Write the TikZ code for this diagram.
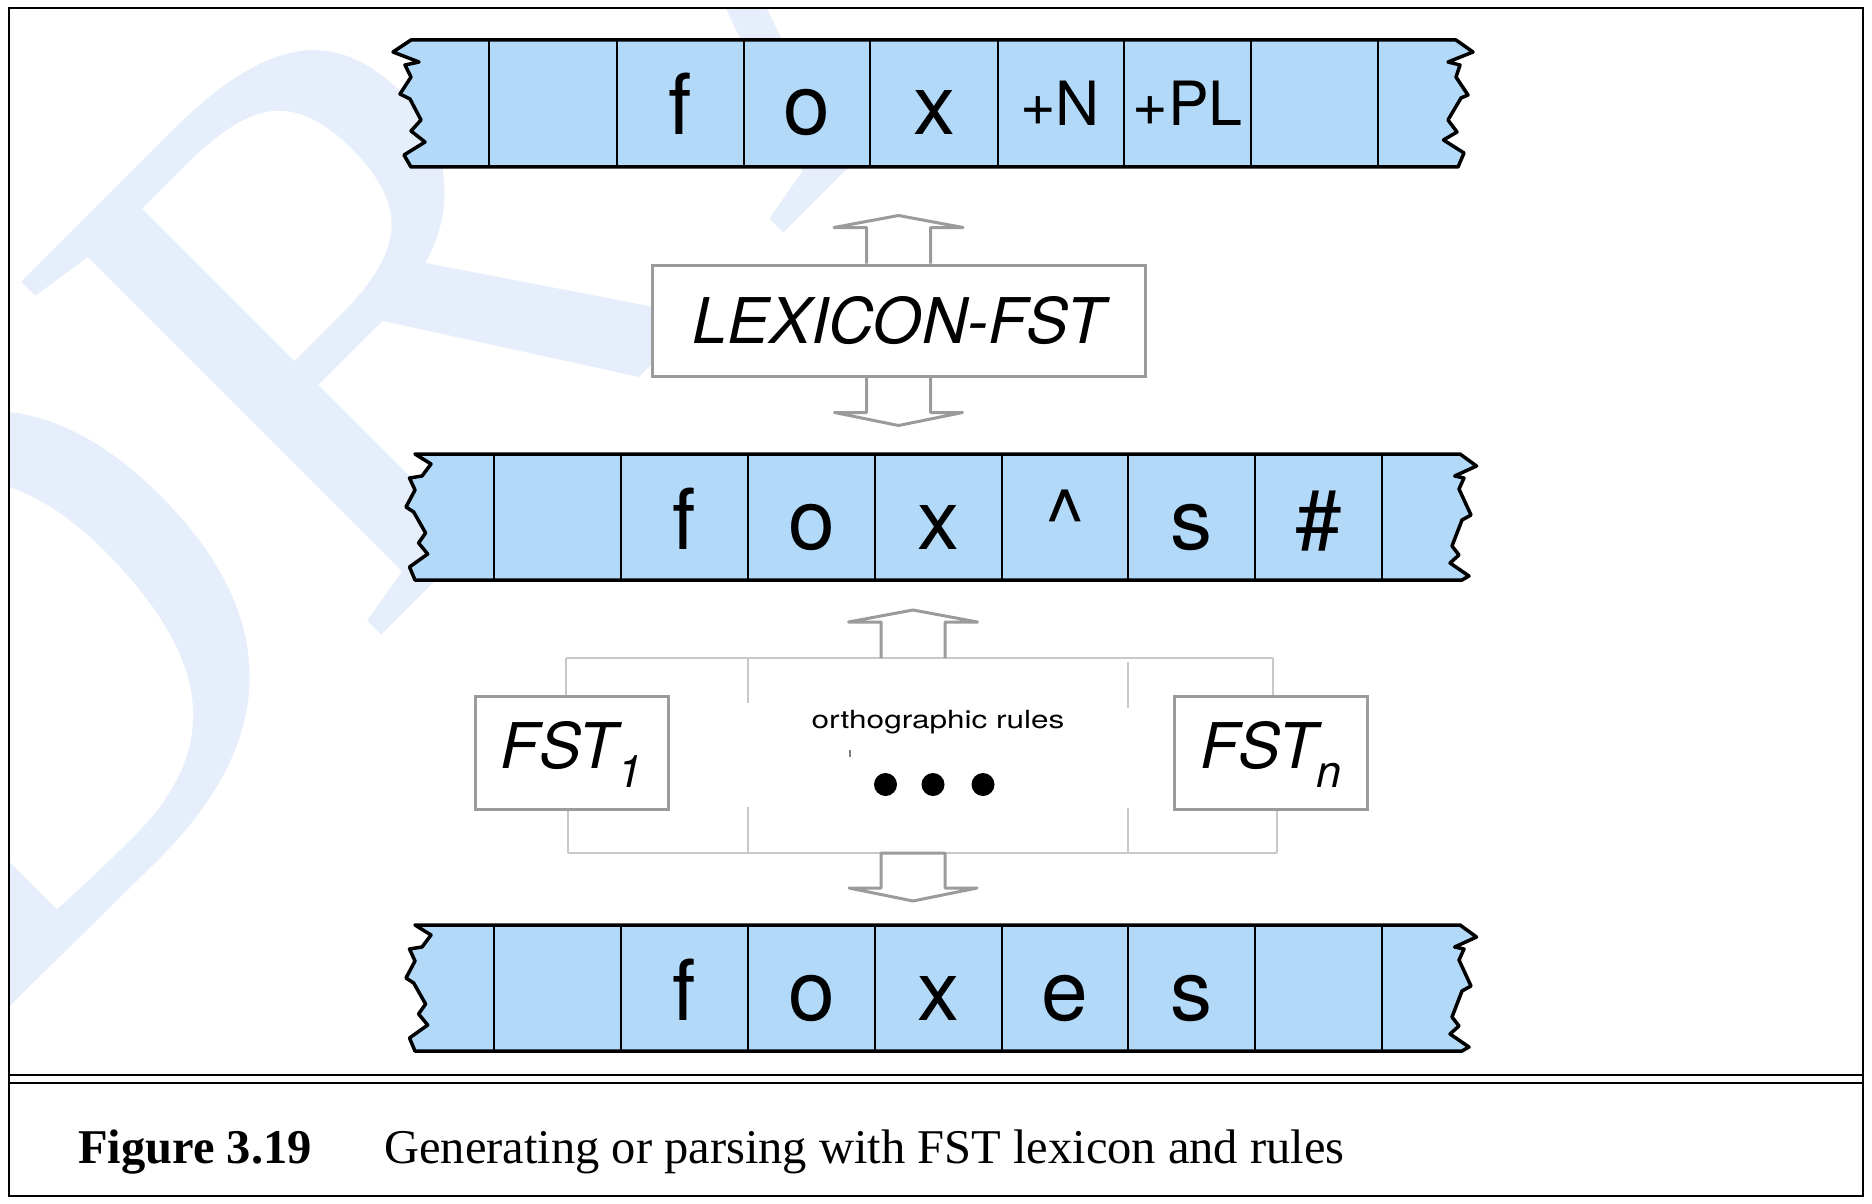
\documentclass[tikz,border=0pt]{standalone}
\usepackage{fontspec}
\setmainfont{TeX Gyre Heros}
\newfontfamily\capfont{Liberation Serif}
\usetikzlibrary{calc}
\definecolor{tapeblue}{RGB}{179,217,249}
\definecolor{wmblue}{RGB}{230,238,251}
\definecolor{boxgray}{RGB}{155,155,155}
\definecolor{brgray}{RGB}{200,200,200}
\newcommand\fsz[1]{\fontsize{#1}{#1}\selectfont}
\newcommand\blockup[1]{\draw[blk] ($(#1)+(-32,0)$) -- ($(#1)+(-32,-36)$) -- ($(#1)+(-64.5,-36)$) -- ($(#1)+(0,-48)$) -- ($(#1)+(64.5,-36)$) -- ($(#1)+(32,-36)$) -- ($(#1)+(32,0)$);}
\newcommand\blockdown[1]{\draw[blk] ($(#1)+(-32,0)$) -- ($(#1)+(-32,35)$) -- ($(#1)+(-64,35)$) -- ($(#1)+(0,48)$) -- ($(#1)+(64,35)$) -- ($(#1)+(32,35)$) -- ($(#1)+(32,0)$);}
\begin{document}
\begin{tikzpicture}[x=1pt,y=-1pt,
  tapetxt/.style={anchor=base, inner sep=0, font=\fsz{84}},
  tapesmall/.style={anchor=base, inner sep=0, font=\fsz{61}},
  graybox/.style={draw=boxgray, line width=3, fill=white, inner sep=0, font=\itshape\fsz{63}},
  blk/.style={draw=boxgray, line width=3, line join=round},
  bracket/.style={draw=brgray, line width=2.5},
  divider/.style={draw=black, line width=2.5},
  tapeline/.style={fill=tapeblue, draw=black, line width=3.5, line join=round},
  wm/.style={rotate=45, anchor=base west, inner sep=0, text=wmblue, font={\capfont\fsz{770}}},
  dot/.style={circle, fill=black, inner sep=0, minimum size=23},
  capt/.style={anchor=base west, inner sep=0, font={\capfont\fsz{48.5}}}
]
\useasboundingbox (0,0) rectangle (1872,1204);
\fill[white] (0,0) rectangle (1872,1204);
% watermark
\begin{scope}
\clip (9,8) rectangle (1863,1075);
\node[wm] (wm) at (-31,1048) {DR\kern75pt AFT};
\end{scope}
% top tape
\filldraw[tapeline] (411,40) -- (1456,40) -- (1473,52) -- (1448,62) -- (1460,65) -- (1456,77) -- (1468,95) -- (1461,98) -- (1448,120) -- (1457,132) -- (1443.5,140) -- (1464,153) -- (1458,167) -- (411,167) -- (404,155) -- (425,142) -- (411,131) -- (421,120) -- (410,99) -- (400,94) -- (411,77) -- (405,65) -- (419,62) -- (393,52) -- cycle;
\foreach \x in {489,617,744,870,998,1124,1251,1378} \draw[divider] (\x,40) -- (\x,167);
\node[tapetxt] (t1f) at (680.5,135) {f};
\node[tapetxt] (t1o) at (807,135) {o};
\node[tapetxt] (t1x) at (934,135) {x};
\node[tapesmall] (t1n) at (1060,126) {+N};
\node[tapesmall] (t1pl) at (1187.5,126) {+PL};
% middle and bottom tapes
\foreach \dy in {0,471} {
\begin{scope}[shift={(0,\dy)}]
\filldraw[tapeline] (415,454) -- (1460,454) -- (1476.5,466) -- (1454.7,476) -- (1464,478) -- (1459,489) -- (1471,515) -- (1462,520) -- (1452,546) -- (1459,555) -- (1450,563) -- (1469,576) -- (1462,580) -- (415,580) -- (409.5,567) -- (427.7,554) -- (418.6,543) -- (425.6,533) -- (413.7,512) -- (406,507) -- (415,490) -- (409.5,478) -- (422,476) -- (431,464) -- cycle;
\foreach \x in {494,621,748,875,1002,1128,1255,1382} \draw[divider] (\x,454) -- (\x,580);
\end{scope}
}
\node[tapetxt] (t2f) at (684.5,549) {f};
\node[tapetxt] (t2o) at (811.5,549) {o};
\node[tapetxt] (t2x) at (938.5,549) {x};
\node[tapetxt] (t2c) at (1065,549) {\textasciicircum};
\node[tapetxt] (t2s) at (1191.5,549) {s};
\node[tapetxt] (t2h) at (1318.5,549) {\#};
\node[tapetxt] (t3f) at (684.5,1020.5) {f};
\node[tapetxt] (t3o) at (811.5,1020.5) {o};
\node[tapetxt] (t3x) at (938.5,1020.5) {x};
\node[tapetxt] (t3e) at (1065,1020.5) {e};
\node[tapetxt] (t3s) at (1191.5,1020.5) {s};
% lexicon
\node[graybox, minimum width=493, minimum height=111] (lex) at (898.5,320.5) {LEXICON-FST};
\blockup{lex.north}
\blockdown{lex.south}
% FST boxes
\node[graybox, minimum width=193, minimum height=113, text height=45, text depth=14] (fst1) at (571.5,752.5) {FST\raisebox{-19pt}{\fsz{45}1}};
\node[graybox, minimum width=193, minimum height=113, text height=45, text depth=14] (fstn) at (1271,752.5) {FST\raisebox{-19pt}{\fsz{45}n}};
% bracket
\coordinate (bTL) at (566,658);
\coordinate (bTR) at (1273,658);
\coordinate (bBL) at (568,853);
\coordinate (bBR) at (1277,853);
\coordinate (brtop) at (913,658);
\coordinate (brbot) at (913,853);
\draw[bracket] (bTL) -- (bTR);
\draw[bracket] (bBL) -- (bBR);
\draw[bracket] (bTL) -- (fst1.north -| bTL);
\draw[bracket] (bTR) -- (fstn.north -| bTR);
\draw[bracket] (bBL) -- (fst1.south -| bBL);
\draw[bracket] (bBR) -- (fstn.south -| bBR);
\draw[bracket] (748,658) -- (748,703);
\draw[bracket] (1128,662) -- (1128,708);
\draw[bracket] (748,807) -- (748,853);
\draw[bracket] (1128,808) -- (1128,853);
\blockup{brtop}
\draw[blk] ($(brbot)+(-32,0)$) -- ($(brbot)+(-32,35)$) -- ($(brbot)+(-64,35)$) -- ($(brbot)+(0,48)$) -- ($(brbot)+(64,35)$) -- ($(brbot)+(32,35)$) -- ($(brbot)+(32,0)$) -- cycle;
% orthographic rules
\node[anchor=base, inner sep=0] (orth) at (938,728) {\scalebox{1.26}[1]{\fsz{25}orthographic rules}};
\draw[draw=gray, line width=1.5] (850,750) -- (850,757);
\node[dot] (d1) at (885.5,784.5) {};
\node[dot] (d2) at (933,784.5) {};
\node[dot] (d3) at (983,784.5) {};
% frame
\draw[line width=2] (9,8) rectangle (1863,1196);
\draw[line width=2] (9,1075) -- (1863,1075);
\draw[line width=2] (9,1083) -- (1863,1083);
% caption
\node[capt, font={\capfont\bfseries\fsz{48.5}}] (figlbl) at (78,1163) {Figure 3.19};
\node[capt] (figcap) at (384,1163) {Generating or parsing with FST lexicon and rules};
\end{tikzpicture}
\end{document}
